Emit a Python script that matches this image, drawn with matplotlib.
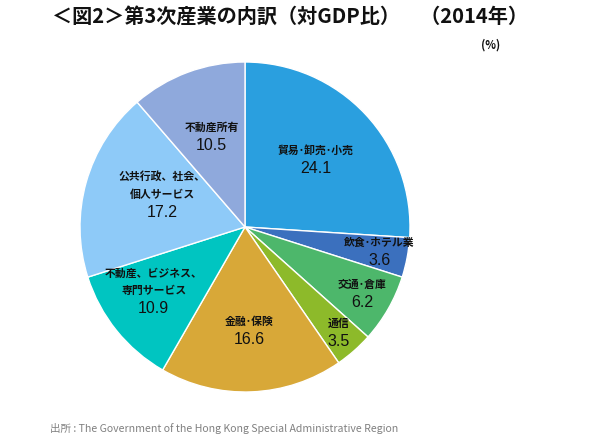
import matplotlib
matplotlib.use("Agg")
import matplotlib.pyplot as plt
import numpy as np

plt.rcParams['font.family'] = ['Noto Sans CJK JP', 'DejaVu Sans']

categories = ["貿易･卸売･小売", "飲食･ホテル業", "交通･倉庫", "通信", "金融･保険",
              "不動産、ビジネス、\n専門サービス", "公共行政、社会、\n個人サービス", "不動産所有"]
values = [24.1, 3.6, 6.2, 3.5, 16.6, 10.9, 17.2, 10.5]
value_labels = ["24.1", "3.6", "6.2", "3.5", "16.6", "10.9", "17.2", "10.5"]

colors = ["#2A9FDF", "#3B70BE", "#4DB76B", "#8DBA2A", "#D8A838", "#00C5C1", "#8ECAF8", "#8FA9DC"]
label_r = [0.59, 0.83, 0.82, 0.86, 0.63, 0.71, 0.52, 0.58]

fig = plt.figure(figsize=(6, 4.41), dpi=100)
cx, cy, R = 245, 441 - 227, 165
ax = fig.add_axes([(cx - R) / 600, (cy - R) / 441, 2 * R / 600, 2 * R / 441])
wedges, _ = ax.pie(values, colors=colors, startangle=90, counterclock=False,
                   wedgeprops=dict(edgecolor="white", linewidth=1.0))
ax.set_xlim(-1, 1)
ax.set_ylim(-1, 1)
ax.set_aspect('equal')
ax.axis('off')

for w, cat, vl, r in zip(wedges, categories, value_labels, label_r):
    ang = np.deg2rad((w.theta1 + w.theta2) / 2)
    x, y = r * np.cos(ang), r * np.sin(ang)
    ax.text(x, y + 0.025, cat, ha='center', va='bottom', fontsize=7.8, fontweight='bold',
            color="#111111", linespacing=1.85)
    ax.text(x, y - 0.005, vl, ha='center', va='top', fontsize=11.5, color="#111111",
            family=['Liberation Sans', 'DejaVu Sans'])

fig.text(290 / 600, 1 - 16 / 441, "＜図2＞第3次産業の内訳（対GDP比）　（2014年）",
         ha='center', va='center', fontsize=14.5, fontweight='bold', color="#111111")
fig.text(491 / 600, 1 - 45 / 441, "(%)", ha='center', va='center', fontsize=8,
         fontweight='bold', color="#111111")
fig.text(50 / 600, 1 - 428 / 441, "出所 : The Government of the Hong Kong Special Administrative Region",
         ha='left', va='center', fontsize=7.6, color="#808080")

fig.savefig("out.png", dpi=100)
